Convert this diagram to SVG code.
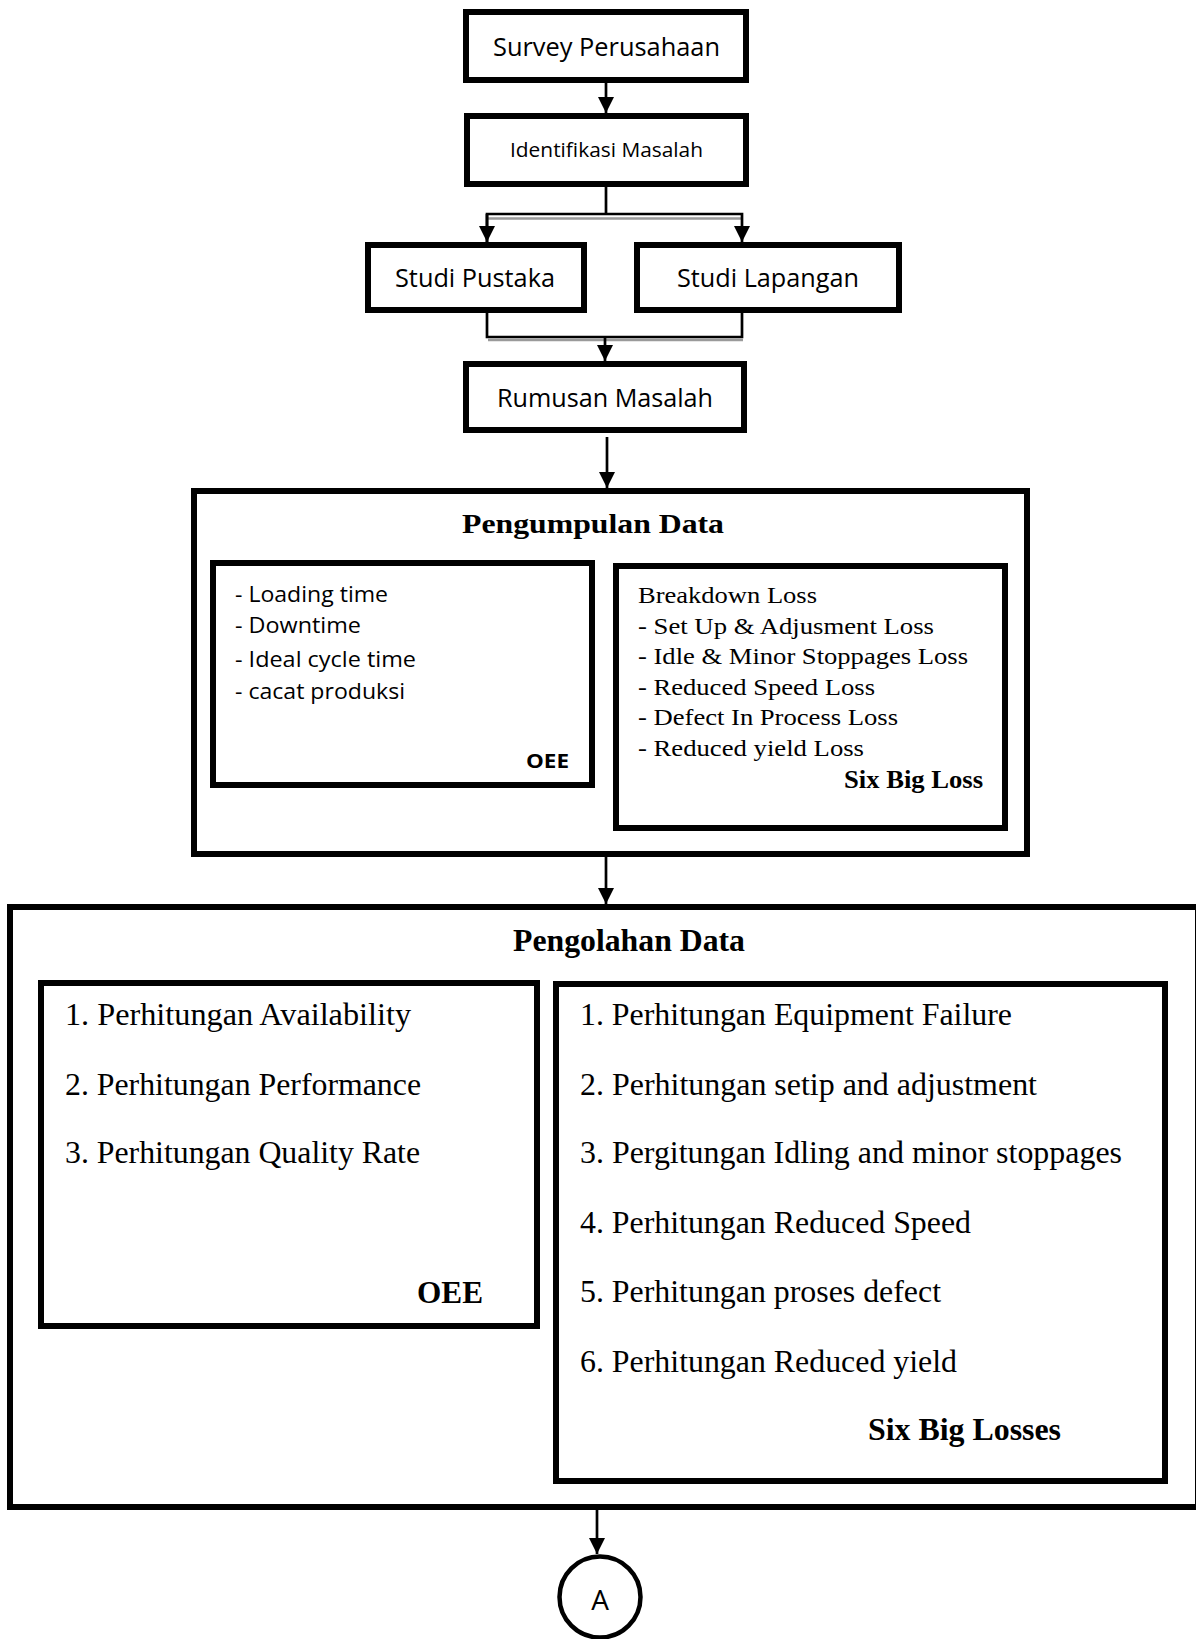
<svg xmlns="http://www.w3.org/2000/svg" width="1196" height="1639" viewBox="0 0 1196 1639">
<style>
.box{fill:#fff;stroke:#000;stroke-width:6}
.conn{fill:none;stroke:#000;stroke-width:2.7}
.shadow{fill:none;stroke:#9a9a9a;stroke-width:2.5}
.sans{font-family:"Open Sans","Noto Sans",sans-serif;fill:#000}
.serif{font-family:"Liberation Serif","Times New Roman",serif;fill:#000}
.b{font-weight:bold}
</style>
<defs>
<marker id="arr" markerUnits="userSpaceOnUse" markerWidth="16" markerHeight="16" viewBox="0 0 16 16" refX="16" refY="8" orient="auto">
<path d="M0,0 L16,8 L0,16 Z" fill="#000"/>
</marker>
</defs>
<rect width="1196" height="1639" fill="#fff"/>
<g id="connectors">
<line class="conn" x1="606" y1="83" x2="606" y2="113" marker-end="url(#arr)"/>
<line class="shadow" x1="488" y1="218.5" x2="741" y2="218.5"/>
<polyline class="conn" points="606,187 606,214"/>
<polyline class="conn" points="487,242 487,214 742,214 742,242" marker-end="url(#arr)"/>
<line class="conn" x1="487" y1="214" x2="487" y2="242" marker-end="url(#arr)"/>
<line class="shadow" x1="488" y1="340" x2="743" y2="340"/>
<polyline class="conn" points="487,313 487,337 742,337 742,313"/>
<line class="conn" x1="605" y1="337" x2="605" y2="361" marker-end="url(#arr)"/>
<line class="conn" x1="607" y1="437" x2="607" y2="488" marker-end="url(#arr)"/>
<line class="conn" x1="606" y1="857" x2="606" y2="904" marker-end="url(#arr)"/>
<line class="conn" x1="597" y1="1510" x2="597" y2="1554" marker-end="url(#arr)"/>
</g>
<g id="survey">
<rect class="box" x="466" y="12" width="280" height="68"/>
<text class="sans" x="493" y="56" font-size="26" textLength="227" lengthAdjust="spacingAndGlyphs">Survey Perusahaan</text>
</g>
<g id="identifikasi">
<rect class="box" x="467" y="116" width="279" height="68"/>
<text class="sans" x="510" y="157" font-size="20" textLength="193" lengthAdjust="spacingAndGlyphs">Identifikasi Masalah</text>
</g>
<g id="studi-pustaka">
<rect class="box" x="368" y="245" width="216" height="65"/>
<text class="sans" x="395" y="287" font-size="26" textLength="160" lengthAdjust="spacingAndGlyphs">Studi Pustaka</text>
</g>
<g id="studi-lapangan">
<rect class="box" x="637" y="245" width="262" height="65"/>
<text class="sans" x="677" y="287" font-size="26" textLength="182" lengthAdjust="spacingAndGlyphs">Studi Lapangan</text>
</g>
<g id="rumusan">
<rect class="box" x="466" y="364" width="278" height="66"/>
<text class="sans" x="497" y="407" font-size="25" textLength="216" lengthAdjust="spacingAndGlyphs">Rumusan Masalah</text>
</g>
<g id="pengumpulan">
<rect class="box" x="194" y="491" width="833" height="363"/>
<text class="serif b" x="462" y="533" font-size="28" textLength="262" lengthAdjust="spacingAndGlyphs">Pengumpulan Data</text>
</g>
<g id="pengumpulan-oee">
<rect class="box" x="213" y="563" width="379" height="222"/>
<text class="sans" x="235" y="602" font-size="21" textLength="153" lengthAdjust="spacingAndGlyphs">- Loading time</text>
<text class="sans" x="235" y="633" font-size="21" textLength="126" lengthAdjust="spacingAndGlyphs">- Downtime</text>
<text class="sans" x="235" y="667" font-size="21" textLength="181" lengthAdjust="spacingAndGlyphs">- Ideal cycle time</text>
<text class="sans" x="235" y="699" font-size="21" textLength="170" lengthAdjust="spacingAndGlyphs">- cacat produksi</text>
<text class="sans b" x="526" y="768" font-size="20" textLength="43" lengthAdjust="spacingAndGlyphs">OEE</text>
</g>
<g id="pengumpulan-sixbig">
<rect class="box" x="616" y="566" width="389" height="262"/>
<text class="serif" x="638" y="603" font-size="24" textLength="179" lengthAdjust="spacingAndGlyphs">Breakdown Loss</text>
<text class="serif" x="638" y="634" font-size="24" textLength="296" lengthAdjust="spacingAndGlyphs">- Set Up &amp; Adjusment Loss</text>
<text class="serif" x="638" y="664" font-size="24" textLength="330" lengthAdjust="spacingAndGlyphs">- Idle &amp; Minor Stoppages Loss</text>
<text class="serif" x="638" y="695" font-size="24" textLength="237" lengthAdjust="spacingAndGlyphs">- Reduced Speed Loss</text>
<text class="serif" x="638" y="725" font-size="24" textLength="260" lengthAdjust="spacingAndGlyphs">- Defect In Process Loss</text>
<text class="serif" x="638" y="756" font-size="24" textLength="226" lengthAdjust="spacingAndGlyphs">- Reduced yield Loss</text>
<text class="serif b" x="844" y="788" font-size="25" textLength="139" lengthAdjust="spacingAndGlyphs">Six Big Loss</text>
</g>
<g id="pengolahan">
<rect class="box" x="10" y="907" width="1188" height="600"/>
<text class="serif b" x="513" y="951" font-size="32" textLength="232" lengthAdjust="spacingAndGlyphs">Pengolahan Data</text>
</g>
<g id="pengolahan-oee">
<rect class="box" x="41" y="983" width="496" height="343"/>
<text class="serif" x="65" y="1025" font-size="32" textLength="346" lengthAdjust="spacingAndGlyphs">1. Perhitungan Availability</text>
<text class="serif" x="65" y="1095" font-size="32" textLength="356" lengthAdjust="spacingAndGlyphs">2. Perhitungan Performance</text>
<text class="serif" x="65" y="1163" font-size="32" textLength="355" lengthAdjust="spacingAndGlyphs">3. Perhitungan Quality Rate</text>
<text class="serif b" x="417" y="1303" font-size="32" textLength="66" lengthAdjust="spacingAndGlyphs">OEE</text>
</g>
<g id="pengolahan-sixbig">
<rect class="box" x="556" y="984" width="609" height="497"/>
<text class="serif" x="580" y="1025" font-size="32" textLength="432" lengthAdjust="spacingAndGlyphs">1. Perhitungan Equipment Failure</text>
<text class="serif" x="580" y="1095" font-size="32" textLength="457" lengthAdjust="spacingAndGlyphs">2. Perhitungan setip and adjustment</text>
<text class="serif" x="580" y="1163" font-size="32" textLength="542" lengthAdjust="spacingAndGlyphs">3. Pergitungan Idling and minor stoppages</text>
<text class="serif" x="580" y="1233" font-size="32" textLength="391" lengthAdjust="spacingAndGlyphs">4. Perhitungan Reduced Speed</text>
<text class="serif" x="580" y="1302" font-size="32" textLength="361" lengthAdjust="spacingAndGlyphs">5. Perhitungan proses defect</text>
<text class="serif" x="580" y="1372" font-size="32" textLength="377" lengthAdjust="spacingAndGlyphs">6. Perhitungan Reduced yield</text>
<text class="serif b" x="868" y="1440" font-size="32" textLength="193" lengthAdjust="spacingAndGlyphs">Six Big Losses</text>
</g>
<g id="connector-a">
<circle cx="600" cy="1597" r="40.5" fill="#fff" stroke="#000" stroke-width="4.5"/>
<text class="sans" x="600" y="1610" font-size="28" text-anchor="middle">A</text>
</g>
</svg>
